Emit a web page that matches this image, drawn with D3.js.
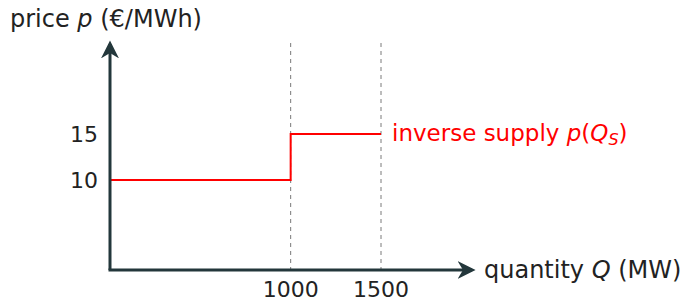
<!DOCTYPE html>
<html>
<head>
<meta charset="utf-8">
<script src="https://cdn.jsdelivr.net/npm/d3@7"></script>
<style>
  body { margin: 0; background: #fff; }
  text { font-family: 'DejaVu Sans', sans-serif; }
</style>
</head>
<body>
<div id="chart-area"></div>
<script>
// step supply curve: quantity breakpoints and price levels
const quantities = [0, 1000, 1500]
const prices = [10, 15]
const xTicks = [1000, 1500]
const yTicks = [10, 15]

const width = 684
const height = 301
const origin = { x: 110, y: 270 }
const axisColor = '#23373b'

const svg = d3.select('#chart-area')
  .append('svg')
    .attr('width', width)
    .attr('height', height)

const scaleX = d3.scaleLinear()
  .domain([0, 1500])
  .range([origin.x, 381])

const scaleY = d3.scaleLinear()
  .domain([0, 15])
  .range([origin.y + 2, 134])

const defs = svg.append('defs')
defs.append('marker')
  .attr('id', 'arrow')
  .attr('viewBox', '0 0 10 10')
  .attr('refX', 8)
  .attr('refY', 5)
  .attr('markerWidth', 6)
  .attr('markerHeight', 6)
  .attr('markerUnits', 'strokeWidth')
  .attr('orient', 'auto')
  .append('path')
    .attr('d', 'M0,0 L10,5 L0,10 L3,5 Z')
    .attr('fill', axisColor)

// dashed guides
svg.selectAll('.guide').data(xTicks).enter()
  .append('line')
    .attr('class', 'guide')
    .attr('x1', d => scaleX(d))
    .attr('x2', d => scaleX(d))
    .attr('y1', 43)
    .attr('y2', origin.y)
    .attr('stroke', '#7a7a7a')
    .attr('stroke-width', 1)
    .attr('stroke-dasharray', '4,4')

// supply step line
const steps = []
prices.forEach((p, i) => {
  steps.push([quantities[i], p])
  steps.push([quantities[i + 1], p])
})
svg.append('path')
  .datum(steps)
  .attr('fill', 'none')
  .attr('stroke', '#ff0000')
  .attr('stroke-width', 2)
  .attr('d', d3.line().x(d => scaleX(d[0])).y(d => scaleY(d[1])))

// axes with arrows
svg.append('line')
  .attr('x1', origin.x).attr('y1', origin.y)
  .attr('x2', origin.x).attr('y2', 44)
  .attr('stroke', axisColor)
  .attr('stroke-width', 3)
  .attr('marker-end', 'url(#arrow)')

svg.append('line')
  .attr('x1', origin.x - 1.5).attr('y1', origin.y)
  .attr('x2', 472).attr('y2', origin.y)
  .attr('stroke', axisColor)
  .attr('stroke-width', 3)
  .attr('marker-end', 'url(#arrow)')

// tick labels
svg.selectAll('.ytick').data(yTicks).enter()
  .append('text')
    .attr('class', 'ytick')
    .attr('x', 98)
    .attr('y', d => scaleY(d) + 8)
    .attr('text-anchor', 'end')
    .attr('font-size', 22)
    .attr('fill', '#222')
    .text(d => d)

svg.selectAll('.xtick').data(xTicks).enter()
  .append('text')
    .attr('class', 'xtick')
    .attr('x', d => scaleX(d))
    .attr('y', 297)
    .attr('text-anchor', 'middle')
    .attr('font-size', 22)
    .attr('fill', '#222')
    .text(d => d)

// axis titles
const yTitle = svg.append('text')
  .attr('x', 10)
  .attr('y', 27)
  .attr('font-size', 24)
  .attr('fill', '#222')
yTitle.append('tspan').text('price ')
yTitle.append('tspan').attr('font-style', 'italic').text('p')
yTitle.append('tspan').text(' (€/MWh)')

const xTitle = svg.append('text')
  .attr('x', 484)
  .attr('y', 278)
  .attr('font-size', 24)
  .attr('fill', '#222')
xTitle.append('tspan').text('quantity ')
xTitle.append('tspan').attr('font-style', 'italic').text('Q')
xTitle.append('tspan').text(' (MW)')

// series label
const label = svg.append('text')
  .attr('x', 392)
  .attr('y', 141)
  .attr('font-size', 23)
  .attr('fill', '#ff0000')
label.append('tspan').text('inverse supply ')
label.append('tspan').attr('font-style', 'italic').text('p')
label.append('tspan').text('(')
label.append('tspan').attr('font-style', 'italic').text('Q')
label.append('tspan').attr('font-style', 'italic').attr('font-size', 16).attr('dy', 4).text('S')
label.append('tspan').attr('dy', -4).text(')')
</script>
</body>
</html>
